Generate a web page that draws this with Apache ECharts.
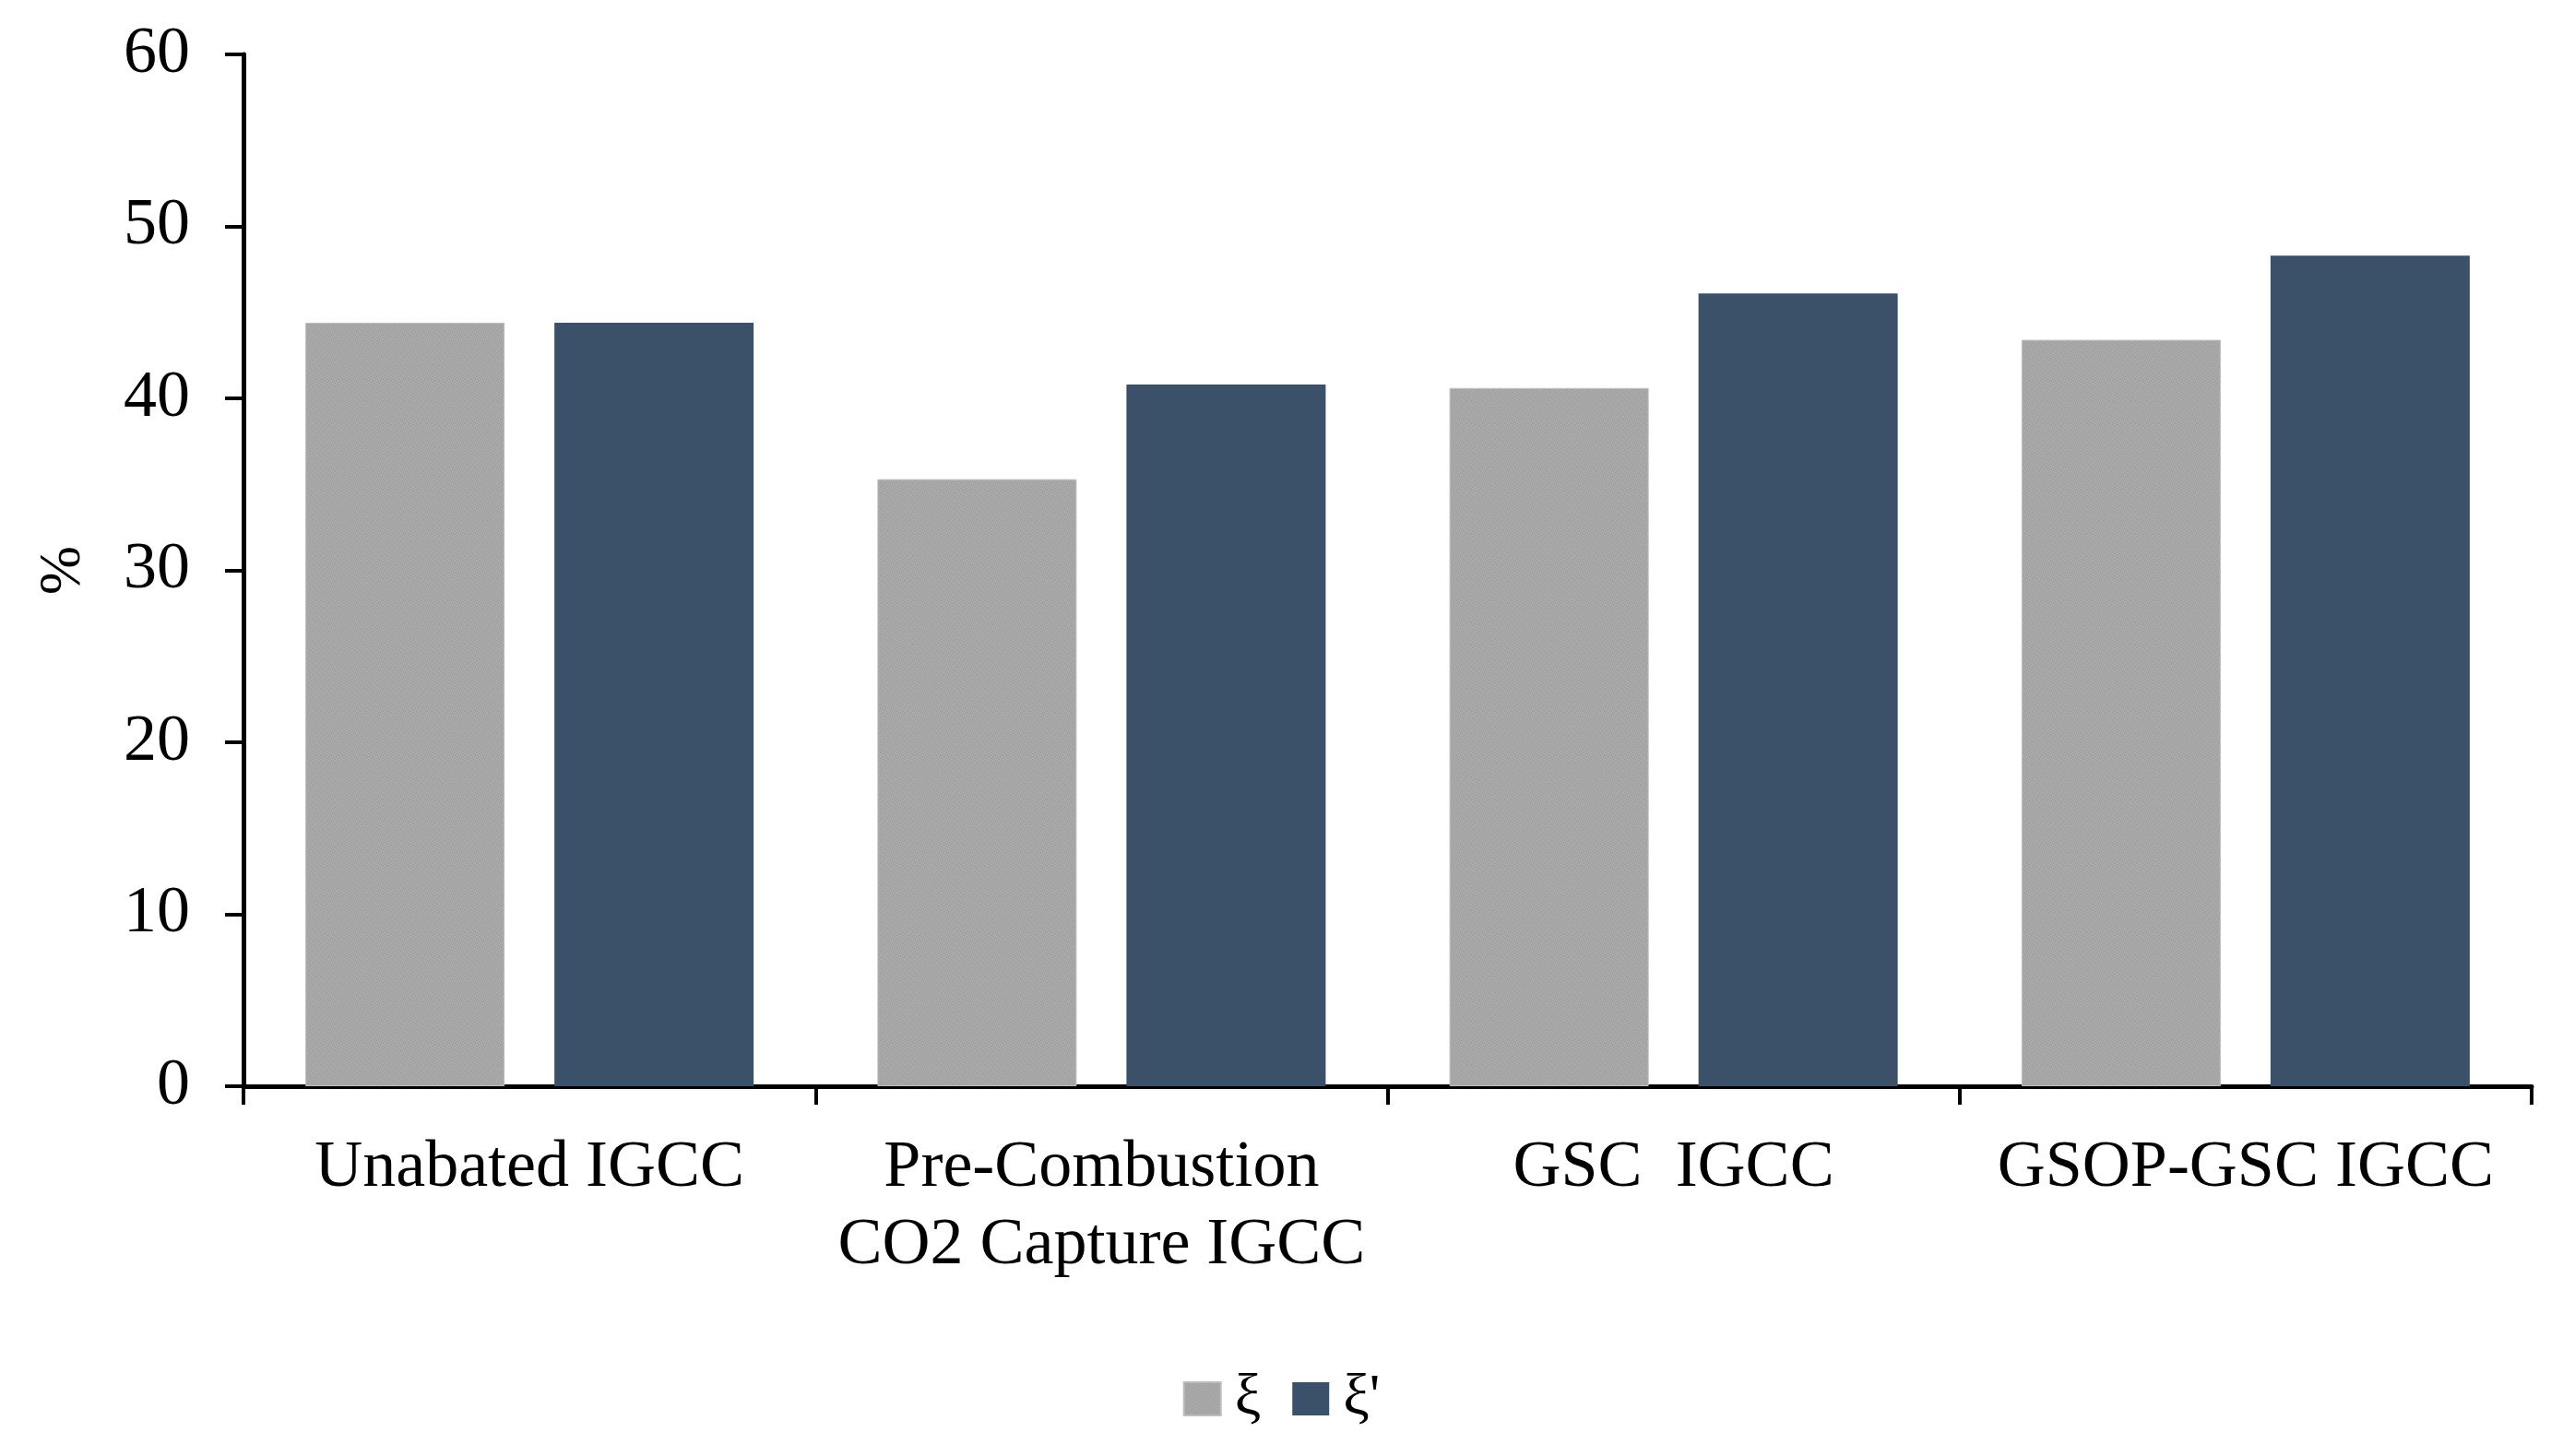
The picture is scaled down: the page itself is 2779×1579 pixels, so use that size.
<!DOCTYPE html>
<html>
<head>
<meta charset="utf-8">
<script src="https://cdn.jsdelivr.net/npm/echarts@6/dist/echarts.min.js"></script>
<style>
html,body{margin:0;padding:0;background:#fff;}
#chart{width:2779px;height:1579px;}
</style>
</head>
<body>
<div id="chart"></div>
<script>
const categories = ['Unabated IGCC', 'Pre-Combustion\nCO2 Capture IGCC', 'GSC  IGCC', 'GSOP-GSC IGCC'];
const seriesNames = ['ξ', 'ξ\''];
const xiValues = [44.4, 35.3, 40.6, 43.4];
const xiPrimeValues = [44.4, 40.8, 46.1, 48.3];
const yTicks = { min: 0, max: 60, interval: 10 };

// dotted gray texture like the reference fill
function makePattern() {
  const c = document.createElement('canvas');
  c.width = 6; c.height = 6;
  const g = c.getContext('2d');
  g.fillStyle = '#a9a9a9';
  g.fillRect(0, 0, 6, 6);
  g.fillStyle = '#999999';
  const dots = [[0,0],[3,1],[1,3],[4,4],[2,5],[5,2]];
  dots.forEach(d => g.fillRect(d[0], d[1], 1, 1));
  return c;
}
const grayFill = { image: makePattern(), repeat: 'repeat' };

const FONT = '"Liberation Serif", "DejaVu Serif", serif';
const chart = echarts.init(document.getElementById('chart'));
chart.setOption({
  animation: false,
  backgroundColor: '#fff',
  grid: { left: 264, right: 34, top: 59, bottom: 401, containLabel: false },
  legend: {
    left: 'center',
    top: 1480,
    icon: 'rect',
    itemWidth: 40,
    itemHeight: 36,
    itemGap: 34,
    textStyle: { fontFamily: FONT, fontSize: 64, color: '#000', padding: [0, 0, 0, 10] },
    data: seriesNames
  },
  xAxis: {
    type: 'category',
    data: categories,
    axisLine: { lineStyle: { color: '#000', width: 5 } },
    axisTick: { show: true, length: 20, lineStyle: { color: '#000', width: 4 } },
    axisLabel: { fontFamily: FONT, fontSize: 72, color: '#000', margin: 47, lineHeight: 84, interval: 0 }
  },
  yAxis: {
    type: 'value',
    min: yTicks.min, max: yTicks.max, interval: yTicks.interval,
    name: '%',
    nameLocation: 'middle',
    nameRotate: 90,
    nameGap: 163,
    nameTextStyle: { fontFamily: FONT, fontSize: 64, color: '#000' },
    splitLine: { show: false },
    axisLine: { show: true, lineStyle: { color: '#000', width: 5 } },
    axisTick: { show: true, length: 20, lineStyle: { color: '#000', width: 4 } },
    axisLabel: { fontFamily: FONT, fontSize: 72, color: '#000', margin: 58 }
  },
  series: [
    {
      name: seriesNames[0], type: 'bar', data: xiValues,
      barWidth: 216, barGap: '25%',
      itemStyle: { color: grayFill, borderColor: '#bdbdbd', borderWidth: 1 }
    },
    {
      name: seriesNames[1], type: 'bar', data: xiPrimeValues,
      barWidth: 216, barGap: '25%',
      itemStyle: { color: '#3b5169' }
    }
  ]
});
</script>
</body>
</html>
